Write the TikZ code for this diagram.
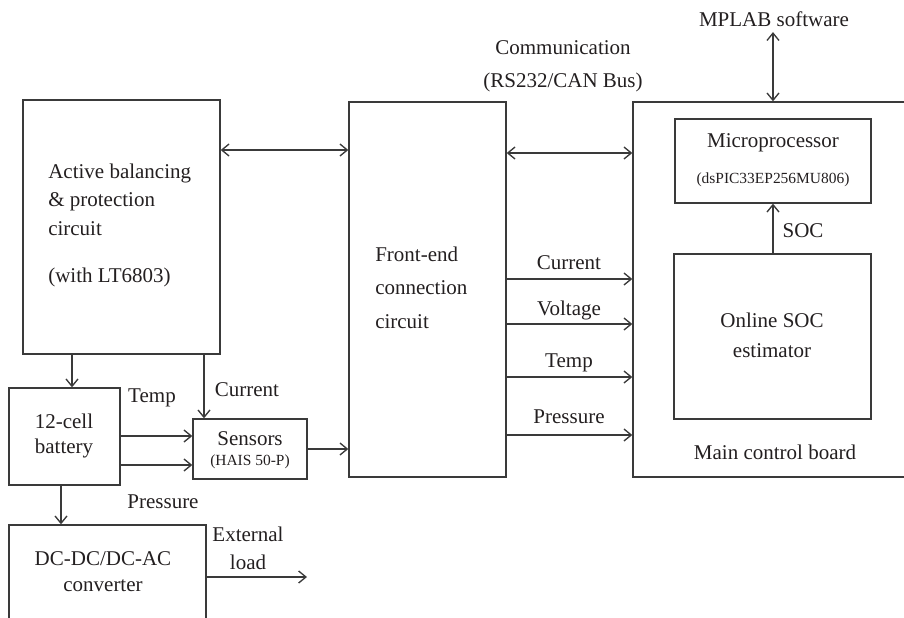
\documentclass[tikz,border=0pt]{standalone}
\usepackage{fontspec}
\setmainfont{Liberation Serif}
\usetikzlibrary{arrows.meta,fit}

\definecolor{ink}{HTML}{231F20}
\definecolor{wire}{HTML}{3A3A3A}
% main text size with a chosen line pitch
\newcommand{\fs}[1]{\fontsize{15.75pt}{#1}\selectfont}
\newcommand{\smallfs}{\fontsize{11.6pt}{14pt}\selectfont}

\begin{document}
\begin{tikzpicture}[x=0.75pt,y=-0.75pt,
  box/.style={draw=wire, line width=1pt, inner sep=0pt},
  lbl/.style={inner sep=0pt, text=ink, font=\fs{19pt}},
  sml/.style={inner sep=0pt, text=ink, font=\smallfs},
  conn/.style={draw=wire, line width=1pt},
  tip/.style={-{Straight Barb[length=5.5pt,width=9pt]}},
  dbl/.style={{Straight Barb[length=5.5pt,width=9pt]}-{Straight Barb[length=5.5pt,width=9pt]}}
]
\useasboundingbox (0,0) rectangle (904,618);
\clip (0,0) rectangle (904,618);

% ---- blocks ----
\node[box, fit={(23,100) (220,354)}] (act) {};
\node[box, fit={(349,102) (506,477)}] (fe) {};
\node[box, fit={(633,102) (930,477)}] (main) {};
\node[box, fit={(675,119) (871,203)}] (mcu) {};
\node[box, fit={(674,254) (871,419)}] (soc) {};
\node[box, fit={(9,388) (120,485)}] (bat) {};
\node[box, fit={(193,419) (307,479)}] (sen) {};
\node[box, fit={(9,525) (206,650)}] (dc) {};

% ---- block texts ----
\node[lbl, align=left, anchor=west, font=\fs{21.4pt}] (acttxt) at (48,225)
  {Active balancing\\\& protection\\circuit\\[13.85pt](with LT6803)};
\node[lbl, align=left, anchor=west, font=\fs{25pt}] (fetxt) at (375,287.5)
  {Front-end\\connection\\circuit};
\node[lbl] (mcutxt) at (773,143) {Microprocessor};
\node[sml] (mcupart) at (773,180) {(dsPIC33EP256MU806)};
\node[lbl, align=center, font=\fs{22.5pt}] (soctxt) at (772,335) {Online SOC\\estimator};
\node[lbl] (maintxt) at (775,452) {Main control board};
\node[lbl, align=center, font=\fs{18.75pt}] (battxt) at (64,435.5) {12-cell\\battery};
\node[lbl] (sentxt) at (250,439) {Sensors};
\node[sml] (senpart) at (250,462) {(HAIS 50-P)};
\node[lbl, align=center, font=\fs{19.5pt}] (dctxt) at (103,572) {DC-DC/DC-AC\\converter};

% ---- free labels ----
\node[lbl, align=center, font=\fs{24.75pt}] (comm) at (563,66.5) {Communication\\(RS232/CAN Bus)};
\node[lbl] (mplab) at (774,19) {MPLAB software};
\node[lbl] (soclbl) at (803,231) {SOC};
\node[lbl] (lcur) at (569,263) {Current};
\node[lbl] (lvol) at (569,310) {Voltage};
\node[lbl] (ltmp) at (569,363) {Temp};
\node[lbl] (lprs) at (569,417) {Pressure};
\node[lbl] (btmp) at (152,398) {Temp};
\node[lbl] (bcur) at (247,390) {Current};
\node[lbl] (bprs) at (163,502) {Pressure};
\node[lbl, align=center, font=\fs{21pt}] (ext) at (248,548) {External\\load};

% ---- connectors ----
\draw[conn,dbl] (act.east |- 0,150) -- (fe.west |- 0,150);
\draw[conn,dbl] (fe.east |- 0,153) -- (main.west |- 0,153);
\foreach \yy in {279,324,377,435}
  \draw[conn,tip] (fe.east |- 0,\yy) -- (main.west |- 0,\yy);
\draw[conn,dbl,shorten <=4pt] (mplab.south -| mcu.north) -- (main.north -| mcu.north);
\draw[conn,tip] (soc.north -| mcu.south) -- (mcu.south);

\draw[conn,tip] (act.south -| 72,0) -- (bat.north -| 72,0);
\draw[conn,tip] (act.south -| 204,0) -- (sen.north -| 204,0);
\draw[conn,tip] (bat.east |- 0,436) -- (sen.west |- 0,436);
\draw[conn,tip] (bat.east |- 0,465) -- (sen.west |- 0,465);
\draw[conn,tip] (sen.east) -- (fe.west |- sen.east);
\draw[conn,tip] (bat.south -| 61,0) -- (dc.north -| 61,0);
\coordinate (load) at (307,577);
\draw[conn,tip] (dc.east |- load) -- (load);
\end{tikzpicture}
\end{document}
